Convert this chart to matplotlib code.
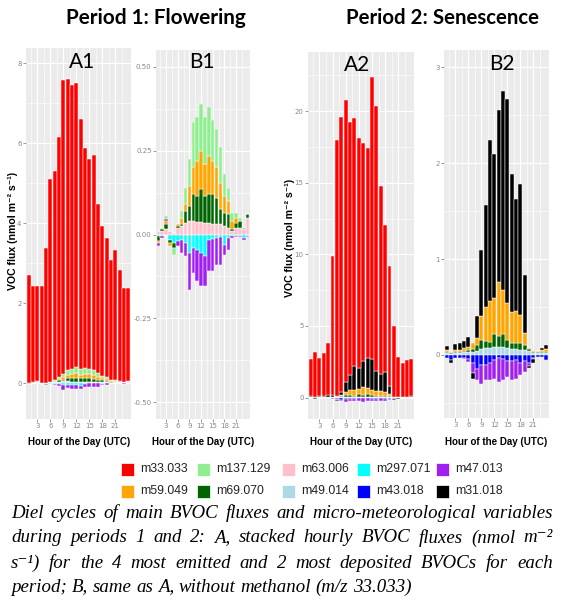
import matplotlib
matplotlib.use('Agg')
import matplotlib.pyplot as plt
from matplotlib.patches import Rectangle
import numpy as np

W, H = 563, 600

hours = list(range(1, 25))

# Period 1: flowering (nmol m-2 s-1), one value per hour 1..24
m33_p1 = [2.70, 2.40, 2.37, 2.41, 3.36, 5.07, 5.24, 6.01, 7.35, 7.27, 7.11, 7.11,
          6.25, 5.50, 5.26, 5.38, 4.21, 3.74, 3.48, 3.02, 3.26, 2.78, 2.35, 2.31]
m63_p1 = [0.010, 0.010, 0.015, 0.010, 0.005, 0.020, 0.025, 0.035, 0.040, 0.040, 0.037, 0.037,
          0.035, 0.035, 0.030, 0.030, 0.030, 0.025, 0.020, 0.010, 0.020, 0.020, 0.017, 0.050]
m69_p1 = [-0.015, 0.005, 0.015, -0.010, -0.015, 0.005, 0.005, 0.035, 0.045, 0.080, 0.078, 0.098,
          0.080, 0.085, 0.090, 0.080, 0.045, 0.040, 0.040, 0.005, 0.015, 0.020, 0.003, 0.010]
m59_p1 = [-0.005, 0.005, 0.010, -0.010, 0.0, 0.005, 0.020, 0.020, 0.060, 0.080, 0.105, 0.115,
          0.095, 0.115, 0.100, 0.090, 0.080, 0.050, 0.040, 0.025, 0.015, 0.0, 0.0, 0.0]
m137_p1 = [0.0, 0.0, 0.010, 0.0, -0.020, 0.0, 0.020, 0.050, 0.080, 0.135, 0.130, 0.140,
           0.140, 0.145, 0.120, 0.115, 0.105, 0.065, 0.040, 0.025, 0.015, 0.010, 0.0, 0.0]
m297_p1 = [-0.005, -0.005, 0.0, -0.015, -0.025, -0.020, -0.015, -0.025, -0.055, -0.040, -0.045, -0.055,
           -0.065, -0.015, -0.012, -0.010, -0.008, -0.030, -0.010, -0.005, -0.005, -0.003, -0.010, -0.005]
m47_p1 = [-0.010, -0.005, 0.005, 0.0, 0.0, -0.015, -0.040, -0.040, -0.110, -0.075, -0.095, -0.100,
          -0.090, -0.095, -0.098, -0.080, -0.082, -0.030, -0.035, -0.005, -0.003, -0.003, -0.005, -0.003]

# Period 2: senescence
m33_p2 = [2.58, 3.17, 2.63, 2.96, 3.64, 9.69, 17.87, 19.15, 19.71, 17.70, 17.25, 16.00,
          15.25, 14.65, 19.68, 18.48, 13.17, 10.27, 8.37, 4.93, 2.77, 2.36, 2.56, 2.57]
m49_p2 = [0.02, 0.01, 0.02, 0.02, 0.03, 0.03, 0.03, 0.04, 0.06, 0.07, 0.07, 0.08,
          0.08, 0.08, 0.07, 0.06, 0.06, 0.05, 0.05, 0.04, 0.02, 0.02, 0.02, 0.02]
m69_p2 = [0.01, 0.01, 0.01, 0.01, 0.01, 0.02, 0.03, 0.06, 0.10, 0.08, 0.07, 0.14,
          0.12, 0.14, 0.09, 0.07, 0.06, 0.07, 0.05, 0.02, 0.01, 0.01, 0.01, 0.01]
m59_p2 = [0.02, 0.01, 0.02, 0.02, 0.03, 0.03, 0.07, 0.08, 0.25, 0.35, 0.42, 0.37,
          0.56, 0.46, 0.38, 0.32, 0.34, 0.30, 0.13, 0.01, 0.01, 0.01, 0.02, 0.03]
m31_p2 = [0.04, -0.03, 0.06, 0.08, 0.08, 0.11, -0.06, 0.23, 0.68, 1.06, 1.68, 1.51,
          1.79, 2.07, 2.13, 1.44, 1.17, 1.36, 0.60, -0.03, -0.04, 0.0, 0.02, 0.04]
m43_p2 = [-0.03, -0.05, -0.03, -0.03, -0.03, -0.04, -0.08, -0.15, -0.10, -0.10, -0.08, -0.05,
          -0.03, -0.04, -0.06, -0.06, -0.05, -0.08, -0.06, -0.08, -0.03, -0.02, -0.02, -0.05]
m47_p2 = [0.0, 0.0, 0.0, 0.0, -0.01, -0.03, -0.11, -0.11, -0.20, -0.16, -0.18, -0.20,
          -0.25, -0.22, -0.17, -0.20, -0.20, -0.13, -0.12, -0.03, -0.01, 0.0, 0.0, 0.0]

colours = {
    'm33.033': '#FF0000', 'm137.129': '#90EE90', 'm63.006': '#FFC0CB',
    'm297.071': '#00FFFF', 'm47.013': '#A020F0', 'm59.049': '#FFA500',
    'm69.070': '#006400', 'm49.014': '#ADD8E6', 'm43.018': '#0000FF',
    'm31.018': '#000000',
}
legend_order = ['m33.033', 'm137.129', 'm63.006', 'm297.071', 'm47.013',
                'm59.049', 'm69.070', 'm49.014', 'm43.018', 'm31.018']

# stacking order, from zero outwards
stack_p1 = [('m63.006', m63_p1), ('m297.071', m297_p1), ('m69.070', m69_p1),
            ('m59.049', m59_p1), ('m47.013', m47_p1), ('m137.129', m137_p1)]
stack_p2 = [('m49.014', m49_p2), ('m43.018', m43_p2), ('m69.070', m69_p2),
            ('m59.049', m59_p2), ('m47.013', m47_p2), ('m31.018', m31_p2)]

fig = plt.figure(figsize=(W / 100, H / 100), dpi=100)
fig.patch.set_facecolor('white')


def panel(x0, y0, x1, y1):
    return fig.add_axes([x0 / W, 1 - y1 / H, (x1 - x0) / W, (y1 - y0) / H])


def draw_stack(ax, series):
    pos = np.zeros(len(hours))
    neg = np.zeros(len(hours))
    for name, vals in series:
        v = np.array(vals, dtype=float)
        base = np.where(v >= 0, pos, neg)
        ax.bar(hours, v, bottom=base, width=0.9, color=colours[name],
               edgecolor='white', linewidth=0.35)
        pos += np.clip(v, 0, None)
        neg += np.clip(v, None, 0)


def style(ax, ylim, yticks, ylabels, yminor):
    ax.set_facecolor('#EBEBEB')
    ax.set_xlim(0.4, 24.6)
    ax.set_ylim(*ylim)
    ax.set_xticks([3, 6, 9, 12, 15, 18, 21])
    ax.set_xticks([1.5, 4.5, 7.5, 10.5, 13.5, 16.5, 19.5, 22.5], minor=True)
    ax.set_yticks(yticks)
    ax.set_yticklabels(ylabels)
    ax.set_yticks(yminor, minor=True)
    ax.grid(which='major', color='white', linewidth=0.8)
    ax.grid(which='minor', color='white', linewidth=0.4)
    ax.set_axisbelow(True)
    for s in ax.spines.values():
        s.set_visible(False)
    ax.tick_params(which='major', labelsize=5, colors='#888888', length=2,
                   width=0.6, pad=1.2)
    ax.tick_params(which='minor', length=0)


axA1 = panel(26, 48, 131, 419)
draw_stack(axA1, stack_p1 + [('m33.033', m33_p1)])
style(axA1, (-0.9, 8.375), [0, 2, 4, 6, 8], ['0', '2', '4', '6', '8'], [1, 3, 5, 7])

axB1 = panel(156, 50, 250, 419)
draw_stack(axB1, stack_p1)
style(axB1, (-0.55, 0.55), [-0.5, -0.25, 0, 0.25, 0.5],
      ['-0.50', '-0.25', '0.00', '0.25', '0.50'], [-0.375, -0.125, 0.125, 0.375])

axA2 = panel(308, 52, 414, 419)
draw_stack(axA2, stack_p2 + [('m33.033', m33_p2)])
style(axA2, (-1.49, 24.12), [0, 5, 10, 15, 20], ['0', '5', '10', '15', '20'],
      [2.5, 7.5, 12.5, 17.5, 22.5])

axB2 = panel(444, 50, 549, 418)
draw_stack(axB2, stack_p2)
style(axB2, (-0.657, 3.18), [0, 1, 2, 3], ['0', '1', '2', '3'], [-0.5, 0.5, 1.5, 2.5])

sans_bold = dict(family=['Liberation Sans', 'DejaVu Sans'], weight='bold')

# panel letters
for txt, x, y in [('A1', 82, 62), ('B1', 202, 62), ('A2', 357, 65), ('B2', 502, 64)]:
    fig.text(x / W, 1 - y / H, txt, ha='center', va='center', fontsize=15,
             family='Lato', color='black')

# x labels
for x in [79, 203, 361, 496]:
    fig.text(x / W, 1 - 442 / H, 'Hour of the Day (UTC)', ha='center', va='center',
             fontsize=7, **sans_bold)

# y labels (A panels only)
for x, y in [(13, 231), (290, 238)]:
    fig.text(x / W, 1 - y / H, 'VOC flux (nmol m⁻² s⁻¹)', ha='center', va='center',
             rotation=90, fontsize=7.6, **sans_bold)

renderer = fig.canvas.get_renderer()


def fit(t, width):
    w = t.get_window_extent(renderer).width
    t.set_fontsize(t.get_fontsize() * width / w)


# period titles
t1 = fig.text(156 / W, 1 - 18 / H, 'Period 1: Flowering', ha='center', va='center',
              fontsize=15, family='Lato', weight='bold')
fit(t1, 181)
t2 = fig.text(442 / W, 1 - 18 / H, 'Period 2: Senescence', ha='center', va='center',
              fontsize=15, family='Lato', weight='bold')
fit(t2, 194)

# legend
col_x = [121, 197, 282, 357, 436]
row_y = [469, 491]
for i, name in enumerate(legend_order):
    x = col_x[i % 5]
    y = row_y[i // 5]
    fig.add_artist(Rectangle((x / W, 1 - (y + 6.5) / H), 13 / W, 13 / H,
                             transform=fig.transFigure, facecolor=colours[name],
                             edgecolor='white', linewidth=0.5))
    fig.text((x + 19) / W, 1 - y / H, name, ha='left', va='center', fontsize=8.8,
             family=['Liberation Sans', 'DejaVu Sans'], color='#222222')

# caption, justified like the source text
serif = dict(family=['Liberation Serif', 'DejaVu Serif'], style='italic', color='black')
caption = [
    'Diel cycles of main BVOC fluxes and micro-meteorological variables',
    'during periods 1 and 2: A, stacked hourly BVOC fluxes (nmol m⁻²',
    's⁻¹) for the 4 most emitted and 2 most deposited BVOCs for each',
    'period; B, same as A, without methanol (m/z 33.033)',
]
line_y = [513, 538, 563, 587]
probe = fig.text(0, 0, caption[3], fontsize=12, **serif)
cap_size = 12 * 398 / probe.get_window_extent(renderer).width
probe.remove()

x_left, x_right = 11, 553
for k, (line, y) in enumerate(zip(caption, line_y)):
    words = line.split(' ')
    txts = [fig.text(0, 1 - y / H, w, ha='left', va='center', fontsize=cap_size, **serif)
            for w in words]
    widths = [t.get_window_extent(renderer).width for t in txts]
    if k < 3:
        gap = (x_right - x_left - sum(widths)) / (len(words) - 1)
    else:
        gap = cap_size * 100 / 72 * 0.25
    x = x_left
    for t, w in zip(txts, widths):
        t.set_x(x / W)
        x += w + gap

fig.savefig('out.png', dpi=100)
